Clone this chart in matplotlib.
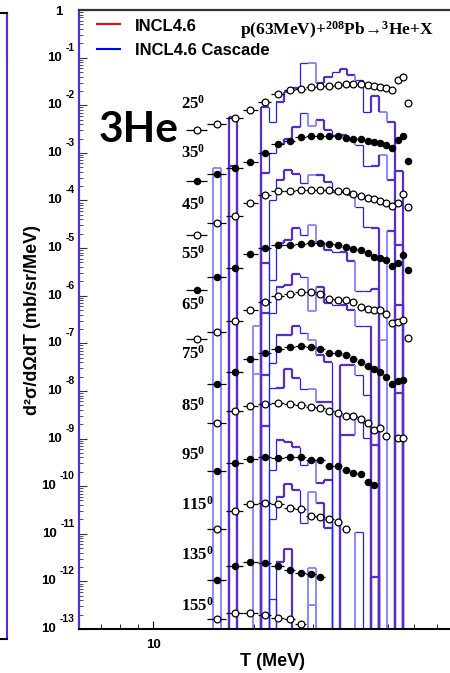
"""
3He double-differential cross sections, p(63 MeV) + 208Pb, INCL4.6 comparison.
"""
import matplotlib

matplotlib.use("Agg")
import matplotlib.pyplot as plt
import numpy as np
from matplotlib.collections import LineCollection
from matplotlib.lines import Line2D
from matplotlib.ticker import LogLocator, NullFormatter

plt.rcParams["mathtext.fontset"] = "custom"
plt.rcParams["mathtext.rm"] = "Liberation Serif:bold"
plt.rcParams["mathtext.it"] = "Liberation Serif:bold"
plt.rcParams["mathtext.bf"] = "Liberation Serif:bold"

# ---- data (log10 of d2sigma/dOmega dT in mb/sr/MeV, as plotted, i.e. scaled) ----
angles_deg = [25, 35, 45, 55, 65, 75, 85, 95, 115, 135, 155]
open_marker = [True, False, True, False, True, False, True, False, True, False, True]

# measured energies (bin centres, +-1 MeV)
t_mev = [13.5, 15.5, 17.5, 19.5, 21.5, 23.5, 25.5, 27.5, 29.5, 31.5, 33.5, 35.5,
         37.5, 39.5, 41.5, 43.5, 45.5, 47.5, 49.5, 51.5, 53.5, 55.5, 57.5]
first_point = [0, 0, 0, 0, 0, 1, 1, 1, 1, 1, 1]

exp_25 = [-2.52, -2.40, -2.26, -2.09, -1.93, -1.77, -1.68, -1.65, -1.62, -1.60, -1.59, -1.57,
          -1.56, -1.55, -1.56, -1.58, -1.60, -1.62, -1.64, -1.68, -1.47, -1.40, -1.95]
exp_35 = [-3.59, -3.45, -3.31, -3.19, -3.00, -2.82, -2.75, -2.67, -2.65, -2.65, -2.65, -2.65,
          -2.68, -2.70, -2.71, -2.75, -2.78, -2.80, -2.84, -2.90, -2.72, -2.64, -3.17]
exp_45 = [-4.72, -4.48, -4.33, -4.05, -3.89, -3.80, -3.80, -3.78, -3.77, -3.77, -3.77, -3.80,
          -3.80, -3.87, -3.91, -3.94, -3.97, -4.01, -4.05, -4.12, -4.06, -3.87, -4.13]
exp_55 = [-5.87, -5.60, -5.41, -5.13, -4.99, -4.94, -4.94, -4.91, -4.89, -4.90, -4.91, -4.93,
          -4.97, -5.01, -5.05, -5.10, -5.18, -5.20, -5.25, -5.37, -5.31, -5.15, -5.45]
exp_65 = [-6.90, -6.76, -6.53, -6.29, -6.13, -6.01, -5.97, -5.93, -5.93, -5.97, -6.07, -6.09,
          -6.10, -6.14, -6.23, -6.27, -6.29, -6.31, -6.39, -6.57, -6.56, -6.50, -6.88]
exp_75 = [-7.86, -7.60, -7.33, -7.21, -7.11, -7.07, -7.06, -7.07, -7.13, -7.20, -7.21, -7.25,
          -7.33, -7.40, -7.47, -7.54, -7.60, -7.70, -7.86, -7.79, -7.77]
exp_85 = [-8.67, -8.42, -8.32, -8.28, -8.26, -8.28, -8.29, -8.34, -8.36, -8.43, -8.47, -8.53,
          -8.52, -8.60, -8.68, -8.82, -8.77, -8.95, None, -8.98, -8.98]
exp_95 = [-9.68, -9.51, -9.43, -9.39, -9.41, -9.39, -9.38, -9.45, -9.45, -9.57, -9.58, -9.66,
          -9.72, -9.75, -9.91, -9.98]
exp_115 = [-10.90, -10.53, -10.38, -10.36, -10.38, -10.45, -10.49, -10.62, -10.65, -10.69,
           -10.75, -10.89]
exp_135 = [-11.98, -11.67, -11.59, -11.62, -11.67, -11.77, -11.82, -11.85, -11.91]
exp_155 = [-12.78, -12.66, -12.66, -12.71, -12.77, -12.80, -12.89]

# INCL4.6 histograms (None = empty bin)
hist_edges_mev = [15.12, 15.96, 16.85, 17.78, 18.76, 19.81, 20.91, 22.07, 23.30, 24.59,
                  25.94, 27.39, 28.91, 30.51, 32.21, 34.00, 35.90, 37.89, 40.00, 42.22,
                  44.57, 47.05, 49.67, 52.43, 55.37, 58.45]
N = None
incl_25 = [N, N, -2.24, N, N, N, -2.03, -2.35, -1.93, -1.72, -1.64, -1.12, -1.12, -1.54,
           -1.40, -1.30, -1.23, -1.37, -1.47, -2.14, -1.81, -2.14, -2.35, N, N]
incl_35 = [-3.31, N, -3.27, N, N, N, -3.43, -3.01, -2.82, -2.70, -2.45, -2.17, -2.43, -2.31,
           -2.52, -2.63, -2.63, -2.73, -2.84, -3.28, -3.28, -3.05, -3.56, -3.38, N]
incl_45 = [N, N, N, N, N, N, N, -3.98, -3.56, -3.36, -3.45, -3.64, -3.47, -3.47, -3.62,
           -3.83, -3.83, -3.89, -4.13, -4.55, -4.57, N, -4.64, -4.94, N]
incl_55 = [N, N, N, N, N, N, -5.31, -5.66, -4.90, -4.82, -4.57, -4.73, -4.52, -4.87, -5.04,
           -5.08, -5.08, -5.27, -5.90, -5.90, -5.86, N, N, -6.20, N]
incl_65 = [N, N, N, N, N, -6.64, -6.37, -6.37, -5.81, -5.78, -5.55, -5.60, -6.32, -5.81,
           -6.16, -6.20, -6.20, -6.30, -6.64, -6.64, N, -6.93, N, N, N]
incl_75 = [N, N, N, N, N, -7.65, -7.67, -7.42, -6.83, -6.83, -6.64, -6.79, -6.93, -7.25,
           -7.39, N, -7.46, -7.46, -7.67, -8.09, N, N, N, -8.05, N]
incl_85 = [N, N, N, N, N, N, -8.73, -7.94, -7.94, -7.54, -7.72, -7.96, -7.95, -8.24, -8.24,
           N, -8.93, -8.93, -8.54, -8.99, -9.14, N, N, N, N]
incl_95 = [N, N, N, N, N, N, N, -9.66, -9.03, -9.07, -9.17, -9.56, -9.45, -9.94, -9.87,
           N, N, N, N, N, N, N, N, N, N]
incl_115 = [N, N, N, N, N, N, N, -10.69, -10.23, -9.96, -10.08, -10.78, -10.12, -10.36,
            -10.87, N, N, N, -10.96, N, N, N, N, N, N]
incl_135 = [N, N, N, N, N, N, N, N, -11.59, -11.33, N, N, -11.71, N, N, N, N, N, N, N,
            -11.91, N, N, N, N]
incl_155 = [N, N, N, N, N, N, N, -12.36, N, N, N, N, -12.49, N, N, N, N, N, N, N, N, N,
            N, N, N]

exp_all = [exp_25, exp_35, exp_45, exp_55, exp_65, exp_75, exp_85, exp_95, exp_115,
           exp_135, exp_155]
incl_all = [incl_25, incl_35, incl_45, incl_55, incl_65, incl_75, incl_85, incl_95,
            incl_115, incl_135, incl_155]

# ---- style ----
W, H = 450, 673
PURPLE, BLUE, LIGHT = "#5b2ccc", "#2020ff", "#8a8aff"
COL = {"P": PURPLE, "B": BLUE, "L": LIGHT}
LW = {"P": 1.6, "B": 0.9, "L": 1.4}
edge_style = "LLPPBLPBBPPBLLPBPPLBPPLPPP"
bin_style = "LLPPLLPBPPPBLPPBPPBBPLPPP"
label_baseline_px = [109, 158, 210, 259, 310, 359, 411, 460, 510, 560, 611]
SANS = "Liberation Sans"
SERIF = "Liberation Serif"


def fx(x):
    return x / W


def fy(y):
    return 1 - y / H


def px_box(x0, y0, x1, y1):
    return [x0 / W, 1 - y1 / H, (x1 - x0) / W, (y1 - y0) / H]


fig = plt.figure(figsize=(W / 100, H / 100), dpi=100)

# neighbouring panel, only its right edge is visible
axl = fig.add_axes(px_box(-300, 13, 7, 639))
axl.set_xticks([])
axl.set_yticks([])
axl.spines["left"].set_visible(False)
axl.spines["right"].set_color(PURPLE)
for s in axl.spines.values():
    s.set_linewidth(1.5)
axl.plot([1, 1], [(639 - 57) / 626, 1], color="#222222", lw=1.5,
         transform=axl.transAxes, clip_on=False)

ax = fig.add_axes(px_box(79, 10, 489, 629))
ax.set_xscale("log")
ax.set_yscale("log")
ax.set_xlim(6.02, 100)
ax.set_ylim(1e-13, 1)

# model histograms
floor = 1e-30
for vals in incl_all:
    y = [10.0 ** v if v is not None else floor for v in vals]
    segs, cols, lws = [], [], []
    for k, v in enumerate(vals):
        if v is None:
            continue
        segs.append([(hist_edges_mev[k], y[k]), (hist_edges_mev[k + 1], y[k])])
        cols.append(COL[bin_style[k]])
        lws.append(LW[bin_style[k]])
    for i in range(len(vals) + 1):
        left = vals[i - 1] if i > 0 else None
        right = vals[i] if i < len(vals) else None
        if left is None and right is None:
            continue
        y0 = y[i - 1] if left is not None else floor
        y1 = y[i] if right is not None else floor
        segs.append([(hist_edges_mev[i], y0), (hist_edges_mev[i], y1)])
        cols.append(COL[edge_style[i]])
        lws.append(LW[edge_style[i]])
    ax.add_collection(LineCollection(segs, colors=cols, linewidths=lws, zorder=2))

# measured points
for vals, start, hollow in zip(exp_all, first_point, open_marker):
    tt = [t_mev[start + i] for i, v in enumerate(vals) if v is not None]
    yy = [10.0 ** v for v in vals if v is not None]
    ax.errorbar(tt, yy, xerr=1.0, fmt="o", ms=4.9 if hollow else 4.5,
                mfc="white" if hollow else "black", mec="black", mew=0.9,
                ecolor="black", elinewidth=0.9, capsize=0, zorder=3)

# axes frame and ticks
ax.spines["left"].set_color(PURPLE)
ax.spines["left"].set_linewidth(1.6)
ax.spines["bottom"].set_linewidth(1.5)
ax.spines["top"].set_color("#333333")
ax.spines["top"].set_linewidth(1.6)

ax.yaxis.set_major_locator(LogLocator(base=10, numticks=40))
ax.yaxis.set_minor_locator(LogLocator(base=10, subs=np.arange(2, 10), numticks=40))
ax.yaxis.set_major_formatter(NullFormatter())
ax.yaxis.set_minor_formatter(NullFormatter())
ax.tick_params(axis="y", which="major", direction="in", length=5.5, width=0.8,
               right=False, colors="#333333")
ax.tick_params(axis="y", which="minor", direction="in", length=3, width=0.6,
               right=False, colors="#333333")

ax.set_xticks([10], labels=["10"])
ax.set_xticks([7, 8, 9, 20, 30, 40, 50, 60, 70, 80, 90], minor=True)
ax.xaxis.set_minor_formatter(NullFormatter())
ax.tick_params(axis="x", which="major", direction="in", length=6, width=0.8,
               pad=7, labelsize=9.5, top=False)
ax.tick_params(axis="x", which="minor", direction="in", length=3.5, width=0.6, top=False)
for lbl in ax.get_xticklabels():
    lbl.set_fontweight("bold")
    lbl.set_family(SANS)

# ROOT-style decade labels on y
ytrans = ax.get_yaxis_transform()
for k in range(1, 14):
    sup = ax.annotate(f"-{k}", xy=(0, 10.0 ** -k), xycoords=ytrans, xytext=(-4, 10),
                      textcoords="offset pixels", ha="right", va="center", fontsize=7.5,
                      fontweight="bold", family=SANS)
    ax.annotate("10", xy=(0, 0.5), xycoords=sup, xytext=(-4, -10),
                textcoords="offset pixels", ha="right", va="center", fontsize=9.5,
                fontweight="bold", family=SANS)
ax.annotate("1", xy=(0, 1), xycoords=ytrans, xytext=(-17, -2), textcoords="offset pixels",
            ha="right", va="center", fontsize=9.5, fontweight="bold", family=SANS)

# angle labels
for ang, yb in zip(angles_deg, label_baseline_px):
    fig.text(fx(181), fy(yb), f"{ang}$^{{0}}$", family=SERIF, fontweight="bold",
             fontsize=12, ha="left", va="baseline")

# legend
fig.add_artist(Line2D([fx(97), fx(120)], [fy(24.3)] * 2, color="red", lw=1.5))
fig.add_artist(Line2D([fx(97), fx(120)], [fy(49)] * 2, color="blue", lw=1.5))
fig.text(fx(135), fy(30.7), "INCL4.6", family=SANS, fontweight="bold", fontsize=12,
         va="baseline")
fig.text(fx(135), fy(55), "INCL4.6 Cascade", family=SANS, fontweight="bold", fontsize=12,
         va="baseline")

fig.text(fx(240), fy(34.3), "p(63MeV)+$^{208}$Pb→$^{3}$He+X", family=SERIF,
         fontweight="bold", fontsize=12.5, va="baseline")
fig.text(fx(99), fy(142), "3He", family="Lato", fontweight="bold", fontsize=30.5,
         va="baseline")

fig.text(fx(32.5), fy(320), "d²σ/dΩdT (mb/sr/MeV)", rotation=90, ha="center",
         va="center", family=SANS, fontweight="bold", fontsize=13)
fig.text(fx(272.5), fy(666.5), "T (MeV)", ha="center", va="baseline", family=SANS,
         fontweight="bold", fontsize=13)

fig.savefig("out.png", dpi=100)
